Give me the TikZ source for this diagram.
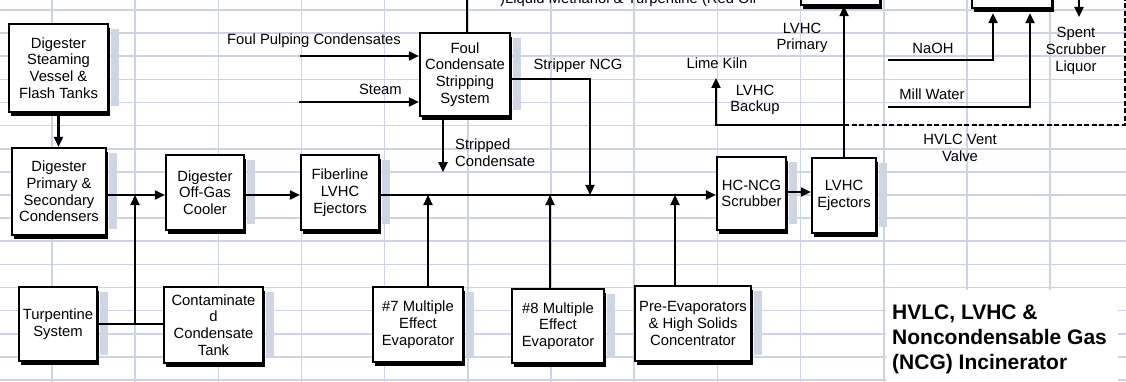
\documentclass[tikz,border=0pt]{standalone}
\usepackage{fontspec}
\setmainfont{Liberation Sans}
\usetikzlibrary{arrows.meta,shadows}
\definecolor{gridc}{RGB}{204,211,226}
\definecolor{shg}{RGB}{206,213,228}
\begin{document}
\begin{tikzpicture}[x=1pt,y=-1pt,
  txt/.style={font=\fontsize{14.8}{16.7}\selectfont},
  box/.style={txt, draw, line width=2.4pt, fill=white, align=center, inner sep=0pt,
    general shadow={fill=black, shadow xshift=1.5pt, shadow yshift=-4pt}},
  lab/.style={txt, inner sep=0pt},
  line/.style={line width=2.2pt},
  arr/.style={line width=2.2pt, -{Triangle[length=10pt,width=9pt]}},
  dashline/.style={line width=2.2pt, dash pattern=on 5pt off 2.5pt},
  gridline/.style={gridc, line width=1.6pt}]
\useasboundingbox (0,0) rectangle (1126,382);
\clip (0,0) rectangle (1126,382);
% spreadsheet grid
\foreach \i in {0,...,12} \draw[gridline] ({52+83.17*\i},0) -- ({52+83.17*\i},382);
\foreach \j in {0,...,16} \draw[gridline] (0,{10+23.125*\j}) -- (1126,{10+23.125*\j});
\fill[white] (886,290) rectangle (1118,382);
% boxes
\node[box, minimum width=99pt, minimum height=88pt] (dsv) at (58.5,68) {Digester\\Steaming\\Vessel \&\\Flash Tanks};
\node[box, minimum width=94pt, minimum height=87pt] (dpc) at (59,191.5) {Digester\\Primary \&\\Secondary\\Condensers};
\node[box, minimum width=78pt, minimum height=75pt] (ogc) at (205,192.5) {Digester\\Off-Gas\\Cooler};
\node[box, minimum width=78pt, minimum height=75pt] (fib) at (340,192.5) {Fiberline\\LVHC\\Ejectors};
\node[box, minimum width=90pt, minimum height=83pt] (foul) at (465,74.5) {Foul\\Condensate\\Stripping\\System};
\node[box, minimum width=69pt, minimum height=73pt] (hcn) at (751.5,193.5) {HC-NCG\\Scrubber};
\node[box, minimum width=64pt, minimum height=75pt] (lej) at (844,195.5) {LVHC\\Ejectors};
\node[box, minimum width=78pt, minimum height=74pt] (tur) at (58,324) {Turpentine\\System};
\node[box, minimum width=99pt, minimum height=76pt] (cct) at (213.5,325) {Contaminate\\d\\Condensate\\Tank};
\node[box, minimum width=90pt, minimum height=75pt] (m7) at (418,324.5) {\#7 Multiple\\Effect\\Evaporator};
\node[box, minimum width=92pt, minimum height=74pt] (m8) at (558,326) {\#8 Multiple\\Effect\\Evaporator};
\node[box, minimum width=116pt, minimum height=75pt] (pre) at (693,323.5) {Pre-Evaporators\\\& High Solids\\Concentrator};
\node[box, minimum width=79pt, minimum height=60pt] (topmid) at (840.5,-25) {};
\node[box, minimum width=80pt, minimum height=60pt] (topright) at (1012,-22) {};
% light side strips of the boxes
\foreach \b in {dsv,dpc,ogc,fib,foul,hcn,lej,tur,cct,m7,m8,pre}
  \fill[shg] ([xshift=1.3pt,yshift=-6pt]\b.north east) rectangle ([xshift=10pt,yshift=7pt]\b.south east);
% labels
\node[lab] (lfpc) at (314,41) {Foul Pulping Condensates};
\node[lab, anchor=east] (lstm) at (402,89) {Steam};
\node[lab] (lsn) at (578,66) {Stripper NCG};
\node[lab, anchor=west, align=left] (lsc) at (455,153) {Stripped\\Condensate};
\node[lab] (llk) at (717,63) {Lime Kiln};
\node[lab, align=center] (lbk) at (755,100) {LVHC\\Backup};
\node[lab, align=center] (lpr) at (802,38) {LVHC\\Primary};
\node[lab] (lna) at (933,48) {NaOH};
\node[lab] (lmw) at (932,94) {Mill Water};
\node[lab, align=center] (lsp) at (1076,51) {Spent\\Scrubber\\Liquor};
\node[lab, align=center] (lhv) at (960,148) {HVLC Vent\\Valve};
\node[lab, anchor=base west] (ltop) at (500,4) {)Liquid Methanol \& Turpentine (Red Oil};
\node[anchor=north west, align=left, inner sep=0pt, font=\bfseries\fontsize{21}{25}\selectfont] (title) at (892,305) {HVLC, LVHC \&\\Noncondensable Gas\\(NCG) Incinerator};
% coordinates
\coordinate (jm) at (135,195);
\coordinate (jt) at (135,324);
\coordinate (e7) at (428,195);
\coordinate (e8) at (550,195);
\coordinate (e9) at (675,195);
\coordinate (sn) at (590,195);
\coordinate (fpc) at (300,56);
\coordinate (stm) at (299,102);
\coordinate (limek) at (716,78);
\coordinate (bk) at (844,125);
\coordinate (dashc) at (1125,125);
\coordinate (dashtop) at (1125,-5);
\coordinate (naoh) at (888,60);
\coordinate (mill) at (888,107);
\coordinate (spt) at (1079,-5);
\coordinate (spb) at (1079,17);
\coordinate (ftop) at (467,-5);
% connectors
\draw[arr] (dsv.south) -- (dsv.south |- dpc.north);
\draw[arr] (dpc.east |- jm) -- (ogc.west |- jm);
\draw[arr] (ogc.east |- jm) -- (fib.west |- jm);
\draw[arr] (fib.east |- jm) -- (hcn.west |- jm);
\draw[line] (tur.east |- jt) -- (cct.west |- jt);
\draw[arr] (jt) -- (jm);
\draw[arr] (m7.north -| e7) -- (e7);
\draw[arr] (m8.north -| e8) -- (e8);
\draw[arr] (pre.north -| e9) -- (e9);
\draw[arr] (foul.east |- 0,79) -| (sn);
\draw[arr] ([xshift=-22pt]foul.south) -- ++(0,55);
\draw[arr] (fpc) -- (fpc -| foul.west);
\draw[arr] (stm) -- (stm -| foul.west);
\draw[line] (foul.north -| ftop) -- (ftop);
\draw[arr] (hcn.east |- 0,192) -- (lej.west |- 0,192);
\draw[arr] (lej.north) -- (lej.north |- topmid.south);
\draw[arr] (bk) -| (limek);
\draw[dashline] (bk) -- (dashc) -- (dashtop);
\draw[arr] (naoh) -| ([xshift=-19pt,yshift=-4pt]topright.south);
\draw[arr] (mill) -| ([xshift=18pt,yshift=-4pt]topright.south);
\draw[arr] (spt) -- (spb);
\end{tikzpicture}
\end{document}
